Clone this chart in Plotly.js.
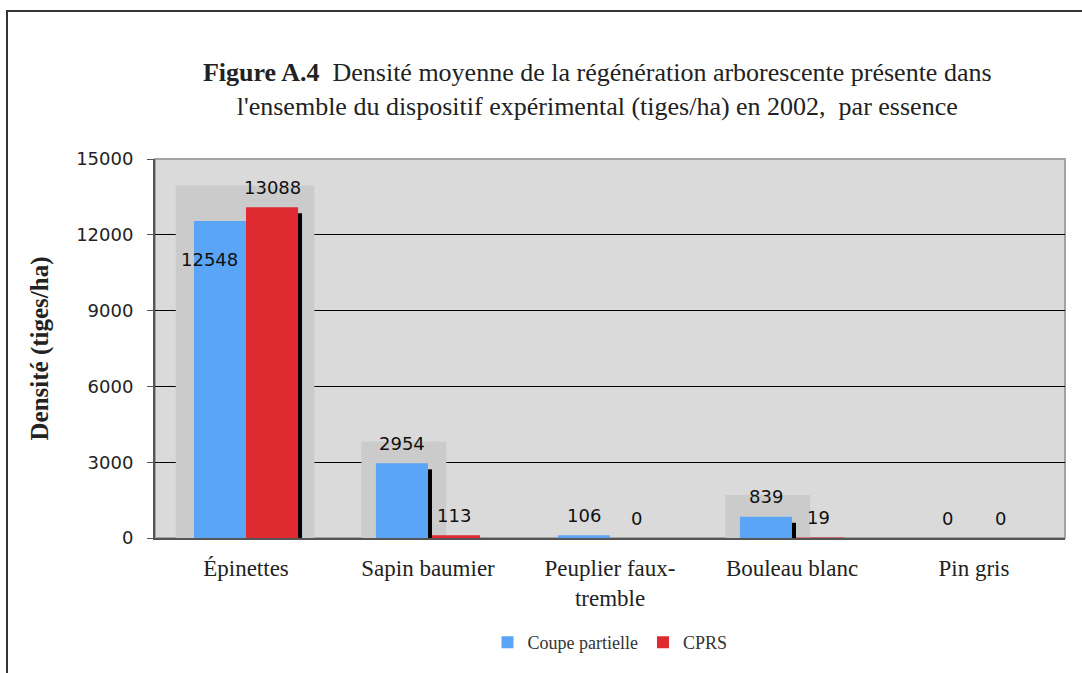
<!DOCTYPE html>
<html>
<head>
<meta charset="utf-8">
<script src="https://cdn.plot.ly/plotly-3.0.1.min.js"></script>
<style>
html,body{margin:0;padding:0;background:#fff;}
#wrap{position:relative;width:1082px;height:673px;overflow:hidden;}
#chart{position:absolute;left:0;top:0;width:1082px;height:673px;}
#frame{position:absolute;left:6px;top:10px;width:1090px;height:700px;border-left:2px solid #333;border-top:2px solid #333;pointer-events:none;}
</style>
</head>
<body>
<div id="wrap"><div id="chart"></div><div id="frame"></div></div>
<script>
const categories = ["Épinettes", "Sapin baumier", "Peuplier faux-<br>tremble", "Bouleau blanc", "Pin gris"];
const coupePartielle = [12548, 2954, 106, 839, 0];
const cprs = [13088, 113, 0, 19, 0];
const seriesNames = ["Coupe partielle", "CPRS"];
const yTicks = [0, 3000, 6000, 9000, 12000, 15000];

const BLUE = "#5ba5f7", RED = "#de2a30";
const half = 0.286;           // bar width in category units
const visible = 500;          // bars below this are too thin to show a shadow
const pxPerUnit = 381 / 15000;

const shapes = [];
// plot-area border
shapes.push({type:"rect", xref:"paper", yref:"paper", x0:0, x1:1, y0:0, y1:1,
  line:{color:"#a3a3a3", width:2}, layer:"below"});
const annotations = [];

categories.forEach((c, i) => {
  const a = coupePartielle[i], b = cprs[i];
  const aVis = a > visible, bVis = b > visible;
  if (aVis || bVis) {
    const top = Math.max(a, b) + 22 / pxPerUnit;
    const x0 = i - half - (bVis && aVis ? 0.1 : 0.08);
    const x1 = bVis ? i + half + 0.09 : i + 0.1;
    shapes.push({type:"rect", xref:"x", yref:"y", x0:x0, x1:x1, y0:0, y1:top,
      fillcolor:"#cbcbcb", line:{width:0}, layer:"between"});
    // dark edge on the right of the right-most visible bar
    const edge = bVis ? i + half : i;
    const v = bVis ? b : a;
    shapes.push({type:"rect", xref:"x", yref:"y", xsizemode:"pixel", xanchor:edge,
      x0:0, x1:4, y0:0, y1:v - 6 / pxPerUnit, fillcolor:"#000", line:{width:0}, layer:"above"});
  }
  [[a, -half/2], [b, half/2]].forEach(([val, off], k) => {
    let xs = 0, ys = 22;
    // Excel pushed the first label down beside its taller neighbour
    if (k === 0 && bVis && aVis && b > a) { xs = -10; ys = -37; }
    annotations.push({x:i + off, y:val, xref:"x", yref:"y", text:String(val),
      showarrow:false, xshift:xs, yshift:ys - 2, yanchor:"middle",
      font:{family:"DejaVu Sans", size:18, color:"#111"}});
  });
});

const data = [
  {type:"bar", name:seriesNames[0], x:categories, y:coupePartielle, marker:{color:BLUE}},
  {type:"bar", name:seriesNames[1], x:categories, y:cprs, marker:{color:RED}}
];

const layout = {
  width:1082, height:673,
  margin:{l:155, r:17, t:159, b:133},
  paper_bgcolor:"#fff", plot_bgcolor:"#dadada",
  barmode:"group", bargap:0.428, bargroupgap:0,
  title:{text:"<b>Figure A.4</b>  Densité moyenne de la régénération arborescente présente dans<br>l'ensemble du dispositif expérimental (tiges/ha) en 2002,  par essence",
    x:0.552, xanchor:"center", xref:"container", y:1 - 81/673, yanchor:"top", yref:"container",
    font:{family:"Liberation Serif", size:26, color:"#222"}},
  xaxis:{type:"category", showgrid:false, showline:true, linecolor:"#555", linewidth:2,
    ticks:"", ticklabelstandoff:8, tickfont:{family:"Liberation Serif", size:23, color:"#222"}, zeroline:false},
  yaxis:{range:[0,15000], tickvals:yTicks, ticktext:yTicks.map(String), showgrid:true, gridcolor:"#000", gridwidth:1,
    showline:true, linecolor:"#555", linewidth:2, ticks:"outside", ticklen:6, tickcolor:"#555",
    ticklabelstandoff:10, tickfont:{family:"DejaVu Sans", size:18, color:"#222"}, zeroline:false,
    title:{text:"<b>Densité (tiges/ha)</b>", standoff:20, font:{family:"Liberation Serif", size:25, color:"#222"}}},
  showlegend:true,
  legend:{orientation:"h", x:0.5, xanchor:"center", y:-105/381, yanchor:"middle",
    font:{family:"Liberation Serif", size:18, color:"#333"}, itemwidth:30, traceorder:"normal"},
  shapes:shapes, annotations:annotations
};

Plotly.newPlot("chart", data, layout, {displayModeBar:false, staticPlot:true});
</script>
</body>
</html>
